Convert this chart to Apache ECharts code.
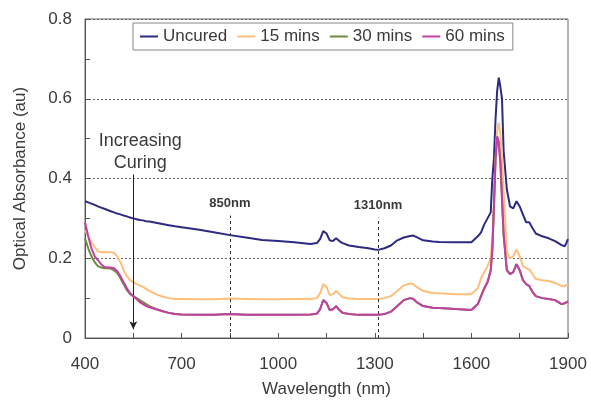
<!DOCTYPE html>
<html><head><meta charset="utf-8">
<script src="https://cdn.jsdelivr.net/npm/echarts@6/dist/echarts.min.js"></script>
<style>html,body{margin:0;padding:0;background:#fff}#c{width:591px;height:403px}</style>
</head><body><div id="c"></div>
<script>
const wavelengths = [400,410,420,430,440,450,460,470,480,490,500,510,520,530,540,550,560,570,580,590,600,620,640,660,680,700,750,800,850,900,950,1000,1050,1100,1120,1130,1140,1145,1150,1160,1170,1180,1185,1190,1200,1220,1250,1280,1300,1310,1330,1350,1370,1390,1410,1420,1430,1450,1480,1500,1550,1600,1620,1630,1640,1650,1660,1665,1670,1675,1680,1685,1690,1695,1700,1710,1720,1730,1740,1745,1750,1760,1770,1780,1790,1800,1820,1840,1860,1880,1890,1900];
const uncured = [0.343,0.340,0.337,0.334,0.330,0.327,0.324,0.321,0.318,0.315,0.312,0.310,0.307,0.305,0.302,0.300,0.298,0.296,0.295,0.293,0.292,0.289,0.286,0.283,0.280,0.278,0.272,0.265,0.258,0.252,0.246,0.243,0.240,0.236,0.238,0.248,0.268,0.272,0.262,0.245,0.243,0.250,0.249,0.243,0.238,0.232,0.228,0.225,0.222,0.221,0.225,0.232,0.245,0.252,0.256,0.257,0.253,0.245,0.242,0.241,0.240,0.240,0.255,0.265,0.285,0.300,0.315,0.400,0.450,0.550,0.620,0.653,0.630,0.600,0.470,0.373,0.330,0.325,0.343,0.340,0.330,0.310,0.290,0.290,0.275,0.262,0.255,0.250,0.243,0.233,0.230,0.248];
const mins15 = [0.270,0.255,0.240,0.228,0.218,0.215,0.215,0.215,0.215,0.213,0.205,0.190,0.170,0.155,0.145,0.140,0.135,0.132,0.128,0.123,0.118,0.110,0.104,0.100,0.098,0.098,0.097,0.097,0.099,0.098,0.097,0.097,0.098,0.098,0.100,0.112,0.135,0.140,0.128,0.108,0.110,0.118,0.117,0.110,0.102,0.099,0.098,0.098,0.098,0.098,0.100,0.105,0.118,0.132,0.137,0.135,0.128,0.118,0.113,0.112,0.110,0.110,0.125,0.150,0.165,0.180,0.200,0.250,0.330,0.450,0.520,0.540,0.510,0.450,0.370,0.215,0.200,0.205,0.222,0.220,0.205,0.180,0.175,0.172,0.160,0.148,0.145,0.143,0.138,0.130,0.130,0.135];
const mins30 = [0.250,0.225,0.205,0.190,0.180,0.177,0.175,0.175,0.174,0.170,0.163,0.150,0.135,0.120,0.110,0.105,0.100,0.095,0.090,0.085,0.080,0.073,0.068,0.063,0.060,0.059,0.058,0.058,0.060,0.058,0.058,0.058,0.058,0.059,0.061,0.072,0.095,0.100,0.088,0.070,0.072,0.080,0.079,0.070,0.063,0.060,0.058,0.058,0.058,0.058,0.060,0.066,0.080,0.095,0.100,0.098,0.090,0.080,0.076,0.075,0.073,0.070,0.085,0.105,0.125,0.140,0.170,0.220,0.330,0.450,0.505,0.490,0.440,0.350,0.260,0.170,0.160,0.165,0.185,0.183,0.170,0.145,0.135,0.130,0.115,0.105,0.100,0.098,0.095,0.085,0.087,0.092];
const mins60 = [0.290,0.255,0.225,0.205,0.195,0.185,0.178,0.177,0.177,0.175,0.168,0.155,0.140,0.125,0.112,0.105,0.098,0.090,0.085,0.080,0.077,0.072,0.067,0.063,0.060,0.059,0.058,0.058,0.060,0.058,0.058,0.058,0.058,0.059,0.061,0.072,0.095,0.100,0.088,0.070,0.072,0.080,0.079,0.070,0.063,0.060,0.058,0.058,0.058,0.058,0.060,0.066,0.080,0.095,0.100,0.098,0.090,0.080,0.076,0.075,0.073,0.070,0.085,0.105,0.125,0.140,0.170,0.220,0.330,0.450,0.505,0.490,0.440,0.350,0.260,0.170,0.160,0.165,0.185,0.183,0.170,0.145,0.135,0.130,0.115,0.105,0.100,0.098,0.095,0.085,0.087,0.092];
const seriesNames = ['Uncured','15 mins','30 mins','60 mins'];
const seriesColors = ['#2d2a82','#ffbe7a','#6f8b3c','#c23fa4'];
const yTickLabels = {0:'0',0.2:'0.2',0.4:'0.4',0.6:'0.6',0.8:'0.8'};
const annot850 = 850, annot1310 = 1310, arrowX = 550;

const allData = [uncured, mins15, mins30, mins60];
const font = 'Liberation Sans, Arial, sans-serif';
const txt = '#3a3a3a';
const chart = echarts.init(document.getElementById('c'), null, {renderer:'canvas'});
const series = allData.map((vals, i) => ({
  name: seriesNames[i], type: 'line', symbol: 'none', smooth: false,
  data: wavelengths.map((w, j) => [w, vals[j]]),
  lineStyle: {width: 2, color: seriesColors[i]}, itemStyle: {color: seriesColors[i]},
  animation: false, z: 2 + i
}));
series[0].markLine = {
  silent: true, animation: false, symbol: ['none','none'],
  lineStyle: {color: '#333', type: [3,3], width: 1},
  label: {show: true, position: 'end', color: txt, fontFamily: font, fontSize: 13, fontWeight: 'bold', distance: 6},
  data: [
    [{coord:[annot850, 0], label:{formatter:'850nm'}}, {coord:[annot850, 0.307]}],
    [{coord:[annot1310, 0], label:{formatter:'1310nm'}}, {coord:[annot1310, 0.302]}],
    [{coord:[arrowX, 0.41], symbol:'none', lineStyle:{type:'solid', color:'#222', width:1}, label:{position:'start', formatter:'Increasing\nCuring', fontSize:18, fontWeight:'normal', lineHeight:22, color:txt, distance:0, padding:[0,0,0,14]}},
     {coord:[arrowX, 0.022], symbol:'arrow', symbolSize:[6,8]}]
  ]
};
chart.setOption({
  animation: false,
  backgroundColor: '#fff',
  grid: {left: 85, right: 23, top: 19, bottom: 64, show: true, borderColor: '#6a6a6a', borderWidth: 1, containLabel: false},
  legend: {
    left: 133, top: 23, itemGap: 10, itemWidth: 18, itemHeight: 2, icon: 'rect',
    borderColor: '#888', borderWidth: 1, padding: [5, 8, 5, 7],
    textStyle: {fontFamily: font, fontSize: 17, color: txt},
    data: seriesNames
  },
  xAxis: {
    type: 'value', min: 400, max: 1900, interval: 300,
    name: 'Wavelength (nm)', nameLocation: 'middle', nameGap: 43,
    nameTextStyle: {fontFamily: font, fontSize: 17, color: txt},
    axisLine: {lineStyle: {color: '#555'}},
    axisTick: {show: true, inside: true, length: 5, lineStyle: {color: '#555'}},
    minorTick: {show: true, splitNumber: 2, length: 5, lineStyle: {color: '#555'}},
    axisLabel: {fontFamily: font, fontSize: 17, color: txt, margin: 18, formatter: v => String(v)},
    splitLine: {show: false}
  },
  yAxis: {
    type: 'value', min: 0, max: 0.8, interval: 0.2,
    name: 'Optical Absorbance (au)', nameLocation: 'middle', nameGap: 56,
    nameTextStyle: {fontFamily: font, fontSize: 17, color: txt},
    axisLine: {show: true, lineStyle: {color: '#555'}},
    axisTick: {show: true, inside: true, length: 5, lineStyle: {color: '#555'}},
    minorTick: {show: true, splitNumber: 2, length: 5, lineStyle: {color: '#555'}},
    axisLabel: {fontFamily: font, fontSize: 17, color: txt, margin: 13, formatter: v => yTickLabels[Math.round(v*10)/10] ?? ''},
    splitLine: {show: true, lineStyle: {color: '#666', type: [2,2], width: 1}}
  },
  series
});
</script></body></html>
